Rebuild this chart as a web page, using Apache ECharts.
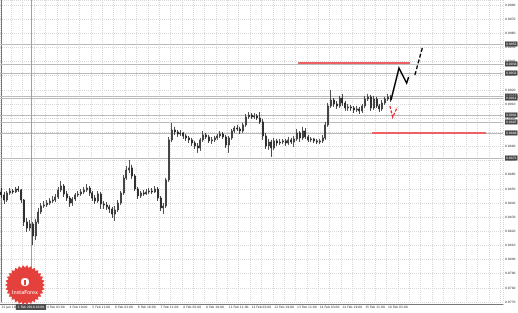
<!DOCTYPE html>
<html><head><meta charset="utf-8">
<script src="https://cdn.jsdelivr.net/npm/echarts/dist/echarts.min.js"></script>
<style>html,body{margin:0;padding:0;background:#fff}#c{width:518px;height:313px}</style>
</head><body><div id="c"></div>
<script>
// ---- data ----
const tickLabels = ['31 Jan 19:00','1 Feb 11:00','4 Feb 03:00','4 Feb 19:00','5 Feb 11:00','6 Feb 03:00','6 Feb 19:00','7 Feb 11:00','8 Feb 03:00','8 Feb 19:00','11 Feb 11:00','12 Feb 03:00','12 Feb 19:00','13 Feb 11:00','14 Feb 03:00','14 Feb 19:00','15 Feb 11:00','18 Feb 03:00'];
const open = [
.98478,.98457,.98421,.98471,.98485,.98478,.98499,.98492,.98421,.98266,
.98223,.98252,.98167,.98266,.98336,.98379,.98386,.98400,.98414,.98421,
.98442,.98492,.98520,.98464,.98435,.98400,.98428,.98457,.98464,.98478,
.98492,.98506,.98471,.98435,.98414,.98464,.98393,.98386,.98372,.98358,
.98322,.98351,.98400,.98471,.98577,.98633,.98648,.98591,.98499,.98450,
.98471,.98464,.98478,.98485,.98478,.98499,.98435,.98365,.98379,.98563,
.98846,.98916,.98902,.98888,.98895,.98874,.98860,.98846,.98824,.98803,
.98789,.98846,.98881,.98867,.98839,.98846,.98860,.98874,.98888,.98867,
.98810,.98860,.98909,.98930,.98923,.98909,.98952,.99008,.99022,.99008,
.99015,.99001,.98973,.98874,.98803,.98831,.98789,.98839,.98824,.98831,
.98839,.98824,.98846,.98831,.98853,.98895,.98860,.98909,.98867,.98846,
.98853,.98839,.98831,.98839,.98860,.98952,.99086,.99128,.99100,.99086,
.99142,.99107,.99072,.99079,.99072,.99058,.99065,.99051,.99086,.99135,
.99150,.99072,.99135,.99086,.99065,.99107,.99135,.99150];
const close = [
.98457,.98421,.98471,.98485,.98478,.98499,.98492,.98421,.98266,.98223,
.98252,.98167,.98266,.98336,.98379,.98386,.98400,.98414,.98421,.98442,
.98492,.98520,.98464,.98435,.98400,.98428,.98457,.98464,.98478,.98492,
.98506,.98471,.98435,.98414,.98464,.98393,.98386,.98372,.98358,.98322,
.98351,.98400,.98471,.98577,.98633,.98648,.98591,.98499,.98450,.98471,
.98464,.98478,.98485,.98478,.98499,.98435,.98365,.98379,.98563,.98846,
.98916,.98902,.98888,.98895,.98874,.98860,.98846,.98824,.98803,.98789,
.98846,.98881,.98867,.98839,.98846,.98860,.98874,.98888,.98867,.98810,
.98860,.98909,.98930,.98923,.98909,.98952,.99008,.99022,.99008,.99015,
.99001,.98973,.98874,.98803,.98831,.98789,.98839,.98824,.98831,.98839,
.98824,.98846,.98831,.98853,.98895,.98860,.98909,.98867,.98846,.98853,
.98839,.98831,.98839,.98860,.98952,.99086,.99128,.99100,.99086,.99142,
.99107,.99072,.99079,.99072,.99058,.99065,.99051,.99086,.99135,.99150,
.99072,.99135,.99086,.99065,.99107,.99135,.99150,.99128];
const high = [
.98506,.98478,.98485,.98506,.98499,.98513,.98520,.98499,.98428,.98294,
.98280,.98266,.98287,.98365,.98400,.98414,.98421,.98435,.98450,.98464,
.98513,.98556,.98534,.98485,.98450,.98442,.98471,.98485,.98499,.98513,
.98534,.98520,.98485,.98457,.98485,.98478,.98414,.98407,.98386,.98372,
.98379,.98421,.98485,.98598,.98662,.98704,.98669,.98605,.98513,.98485,
.98492,.98499,.98506,.98506,.98520,.98513,.98450,.98400,.98577,.98867,
.98966,.98938,.98916,.98916,.98902,.98888,.98874,.98860,.98839,.98824,
.98860,.98909,.98895,.98881,.98867,.98874,.98888,.98909,.98902,.98881,
.98874,.98923,.98945,.98952,.98938,.98966,.99029,.99043,.99036,.99036,
.99029,.99043,.98994,.98895,.98853,.98846,.98860,.98853,.98853,.98853,
.98853,.98867,.98860,.98874,.98923,.98909,.98938,.98930,.98881,.98867,
.98860,.98853,.98853,.98881,.98973,.99107,.99199,.99142,.99121,.99157,
.99171,.99121,.99100,.99093,.99086,.99086,.99079,.99100,.99157,.99171,
.99164,.99157,.99150,.99100,.99128,.99150,.99171,.99164];
const low = [
.98435,.98393,.98407,.98457,.98464,.98471,.98478,.98400,.98237,.98195,
.98202,.98103,.98138,.98252,.98322,.98365,.98372,.98386,.98400,.98407,
.98428,.98478,.98442,.98414,.98372,.98379,.98414,.98442,.98450,.98464,
.98478,.98450,.98414,.98393,.98400,.98358,.98358,.98351,.98329,.98294,
.98273,.98336,.98386,.98457,.98563,.98612,.98570,.98485,.98428,.98435,
.98450,.98457,.98464,.98464,.98471,.98414,.98343,.98322,.98365,.98549,
.98831,.98881,.98867,.98874,.98853,.98839,.98824,.98803,.98782,.98754,
.98768,.98831,.98853,.98824,.98817,.98831,.98846,.98860,.98853,.98789,
.98754,.98846,.98895,.98909,.98888,.98895,.98938,.98994,.98994,.98994,
.98987,.98959,.98846,.98782,.98775,.98726,.98775,.98803,.98810,.98817,
.98803,.98810,.98817,.98796,.98839,.98831,.98846,.98853,.98831,.98831,
.98824,.98817,.98817,.98824,.98846,.98938,.99072,.99079,.99065,.99072,
.99086,.99051,.99051,.99051,.99036,.99043,.99029,.99036,.99072,.99121,
.99051,.99058,.99072,.99043,.99051,.99093,.99121,.99114];
// horizontal levels (gray lines)
const levels = [0.99524, 0.99383, 0.99319, 0.99156, 0.99142, 0.99022, 0.98973, 0.98895, 0.98718];
// red level segments: [fromBar, toBar, price]
const redSegments = [[104.4, 143.8, 0.99390], [130.4, 170.5, 0.98895]];
// forecast paths: [bar, price]
const forecastSolid = [[137.1, 0.99128], [139.9, 0.99354], [142.6, 0.99248], [143.3, 0.99291]];
const forecastDashed = [[145.5, 0.99305], [148.3, 0.99510]];
const redForecast = [[136.7, 0.99086], [137.7, 0.99006], [139.3, 0.99077]];
const cursorBar = 10.4;
const cursorLabel = '1 Feb 2019 16:00';
const slotCount = 177, barsPerTick = 8;
const yMin = 0.9770, yMax = 0.99835, yStep = 0.0010;

// ---- chart ----
const chart = echarts.init(document.getElementById('c'), null, {renderer: 'canvas'});
const candles = open.map((o, i) => [o, close[i], low[i], high[i]]);
const slots = Array.from({length: slotCount}, (_, i) => String(i));
const fmt = v => v.toFixed(4);
const onStep = v => Math.abs(v / yStep - Math.round(v / yStep)) < 1e-6;
const font = 'DejaVu Sans';
const xLeft = -0.5, xRight = slotCount - 0.5;
function saw(cx, cy, r1, r2, n) {
  const pts = [];
  for (let i = 0; i < 2 * n; i++) {
    const a = Math.PI * i / n, r = i % 2 ? r2 : r1;
    pts.push([cx + r * Math.cos(a), cy + r * Math.sin(a)]);
  }
  return pts;
}
const lineBase = {type: 'lines', coordinateSystem: 'cartesian2d', xAxisIndex: 1, yAxisIndex: 0, silent: true, animation: false};
const option = {
  animation: false,
  backgroundColor: '#ffffff',
  grid: {left: 0, right: 15, top: 0, bottom: 11, outerBoundsMode: 'none'},
  xAxis: [{
    type: 'category', data: slots, boundaryGap: true, offset: 2,
    axisLine: {lineStyle: {color: '#777', width: 1}},
    axisTick: {show: false},
    axisLabel: {interval: barsPerTick - 1, align: 'left', fontSize: 3, color: '#333', margin: 2, fontFamily: font,
      formatter: (v, i) => (i % barsPerTick === 0 && tickLabels[i / barsPerTick]) || ''},
    splitLine: {show: true, interval: 3, lineStyle: {color: '#d8d8d8', type: 'dotted', width: 1}}
  }, {
    type: 'value', min: xLeft, max: xRight, show: false
  }],
  yAxis: {
    type: 'value', position: 'right', min: yMin, max: yMax, interval: yStep,
    axisLine: {show: true, lineStyle: {color: '#777', width: 1}},
    axisTick: {show: false},
    axisLabel: {fontSize: 3, color: '#333', margin: 2, fontFamily: font, formatter: v => onStep(v) ? fmt(v) : ''},
    splitLine: {show: true, lineStyle: {color: '#d8d8d8', type: 'dotted', width: 1}}
  },
  series: [
  Object.assign({}, lineBase, {
    clip: false, z: 1,
    lineStyle: {color: '#bbbbbb', width: 1, opacity: 1},
    label: {show: true, position: 'end', distance: 2, formatter: p => fmt(p.data.coords[0][1]), fontSize: 3, fontFamily: font,
      color: '#f0f0f0', backgroundColor: '#454545', padding: [1, 1]},
    data: levels.map(v => ({coords: [[xLeft, v], [xRight, v]]}))
  }),
  Object.assign({}, lineBase, {
    clip: false, z: 1,
    lineStyle: {color: '#a0a0a0', width: 1, opacity: 1},
    label: {show: true, position: 'end', distance: 2, formatter: cursorLabel, fontSize: 3, fontFamily: font,
      color: '#eeeeee', backgroundColor: '#4d4d4d', padding: [1.5, 2]},
    data: [{coords: [[cursorBar, yMax], [cursorBar, yMin]]}]
  }),
  {
    type: 'candlestick', data: candles, barWidth: 1.5, z: 3,
    itemStyle: {color: '#6a6a6a', color0: '#1a1a1a', borderColor: '#2a2a2a', borderColor0: '#1a1a1a', borderWidth: 0.8}
  },
  Object.assign({}, lineBase, {
    z: 4,
    lineStyle: {color: '#ef6065', width: 2, opacity: 1},
    data: redSegments.map(s => ({coords: [[s[0], s[2]], [s[1], s[2]]]}))
  }),
  Object.assign({}, lineBase, {
    z: 5, polyline: true,
    lineStyle: {color: '#000', width: 1.5, opacity: 1},
    data: [{coords: forecastSolid}]
  }),
  Object.assign({}, lineBase, {
    z: 5, polyline: true,
    symbol: ['none', 'arrow'], symbolSize: 5,
    lineStyle: {color: '#000', width: 1.4, type: [4, 2], opacity: 1},
    data: [{coords: forecastDashed}]
  }),
  Object.assign({}, lineBase, {
    z: 5, polyline: true,
    symbol: ['none', 'arrow'], symbolSize: 4,
    lineStyle: {color: '#e5262f', width: 1.3, type: [3, 1.5], opacity: 1},
    data: [{coords: redForecast}]
  })],
  graphic: [
    {type: 'polygon', z: 100, shape: {points: saw(25, 285, 20, 17.5, 30)}, style: {fill: '#e5413c'}},
    {type: 'circle', z: 101, shape: {cx: 25, cy: 282, r: 4}, style: {fill: '#ffffff'}},
    {type: 'rect', z: 102, shape: {x: 24, y: 280, width: 2, height: 5}, style: {fill: '#e5413c'}},
    {type: 'text', z: 101, x: 25, y: 293, style: {text: 'InstaForex', fill: '#ffffff', font: '5px "DejaVu Sans"', align: 'center', verticalAlign: 'middle'}}
  ]
};
chart.setOption(option);
</script>
</body></html>
